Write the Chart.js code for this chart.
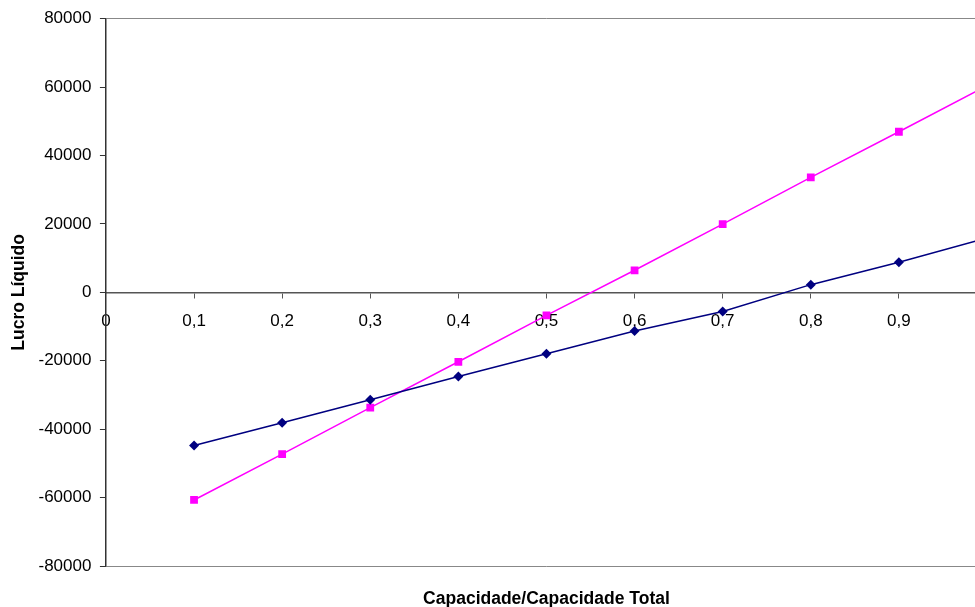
<!DOCTYPE html>
<html>
<head>
<meta charset="utf-8">
<script src="https://cdn.jsdelivr.net/npm/chart.js@4"></script>
<style>
  html, body { margin: 0; padding: 0; background: #fff; overflow: hidden; }
  #wrap { width: 1000px; height: 607px; }
</style>
</head>
<body>
<div id="wrap"><canvas id="lucroChart" width="1000" height="607"></canvas></div>
<script>
// capacidade / capacidade total
const capacidade = [0.1, 0.2, 0.3, 0.4, 0.5, 0.6, 0.7, 0.8, 0.9, 1.0];
const lucroAzul = [-44800, -38100, -31400, -24600, -17950, -11300, -5600, 2250, 8800, 15900];
const lucroRosa = [-60700, -47300, -33700, -20300, -6750, 6450, 19950, 33600, 46950, 60400];
const xTicks = [0, 0.1, 0.2, 0.3, 0.4, 0.5, 0.6, 0.7, 0.8, 0.9];
const yTicks = [-80000, -60000, -40000, -20000, 0, 20000, 40000, 60000, 80000];

const fonte = "'Liberation Sans', Arial, sans-serif";

function pontos(vals) {
    return capacidade.map(function(c, i) { return { x: c, y: vals[i] }; });
}

const ctx = document.getElementById('lucroChart').getContext('2d');

new Chart(ctx, {
    type: 'line',
    data: {
        datasets: [{
            data: pontos(lucroAzul),
            borderColor: '#000080',
            backgroundColor: '#000080',
            borderWidth: 1.5,
            pointStyle: 'rectRot',
            pointRadius: 5,
            pointBorderWidth: 0,
            tension: 0
        }, {
            data: pontos(lucroRosa),
            borderColor: '#FF00FF',
            backgroundColor: '#FF00FF',
            borderWidth: 1.5,
            pointStyle: 'rect',
            pointRadius: 5.5,
            pointBorderWidth: 0,
            tension: 0
        }]
    },
    options: {
        responsive: false,
        animation: false,
        layout: { padding: { top: 13, left: 5, right: 13, bottom: 0 } },
        plugins: {
            legend: { display: false },
            tooltip: { enabled: false }
        },
        scales: {
            x: {
                type: 'linear',
                position: { y: 0 },
                min: 0,
                max: 1.0,
                afterBuildTicks: function(scale) {
                    scale.ticks = xTicks.map(function(v) { return { value: v }; });
                },
                ticks: {
                    color: '#000',
                    font: { family: fonte, size: 17 },
                    padding: 14,
                    maxRotation: 0,
                    callback: function(v) {
                        return v === 0 ? '0' : v.toFixed(1).replace('.', ',');
                    }
                },
                grid: { drawOnChartArea: false, drawTicks: true, tickLength: 5, color: '#555' },
                border: { color: '#555', width: 1.5 }
            },
            x2: {
                type: 'linear',
                position: 'bottom',
                min: 0,
                max: 1.0,
                ticks: { display: false },
                grid: { display: false },
                border: { display: false },
                title: {
                    display: true,
                    text: 'Capacidade/Capacidade Total',
                    color: '#000',
                    font: { family: fonte, size: 17.5, weight: 'bold' },
                    padding: { top: 15, bottom: -3 }
                }
            },
            y: {
                min: -80000,
                max: 80000,
                afterBuildTicks: function(scale) {
                    scale.ticks = yTicks.map(function(v) { return { value: v }; });
                },
                ticks: {
                    color: '#000',
                    font: { family: fonte, size: 17 },
                    padding: 8.5,
                    callback: function(v) { return String(v); }
                },
                grid: {
                    drawTicks: true,
                    tickLength: 6,
                    tickColor: '#333',
                    color: function(c) {
                        return (c.tick && Math.abs(c.tick.value) === 80000) ? '#888' : 'rgba(0,0,0,0)';
                    }
                },
                border: { color: '#333', width: 1.5 },
                title: {
                    display: true,
                    text: 'Lucro Líquido',
                    color: '#000',
                    font: { family: fonte, size: 17.5, weight: 'bold' },
                    padding: { top: 4, bottom: 0 }
                }
            }
        }
    }
});
</script>
</body>
</html>
